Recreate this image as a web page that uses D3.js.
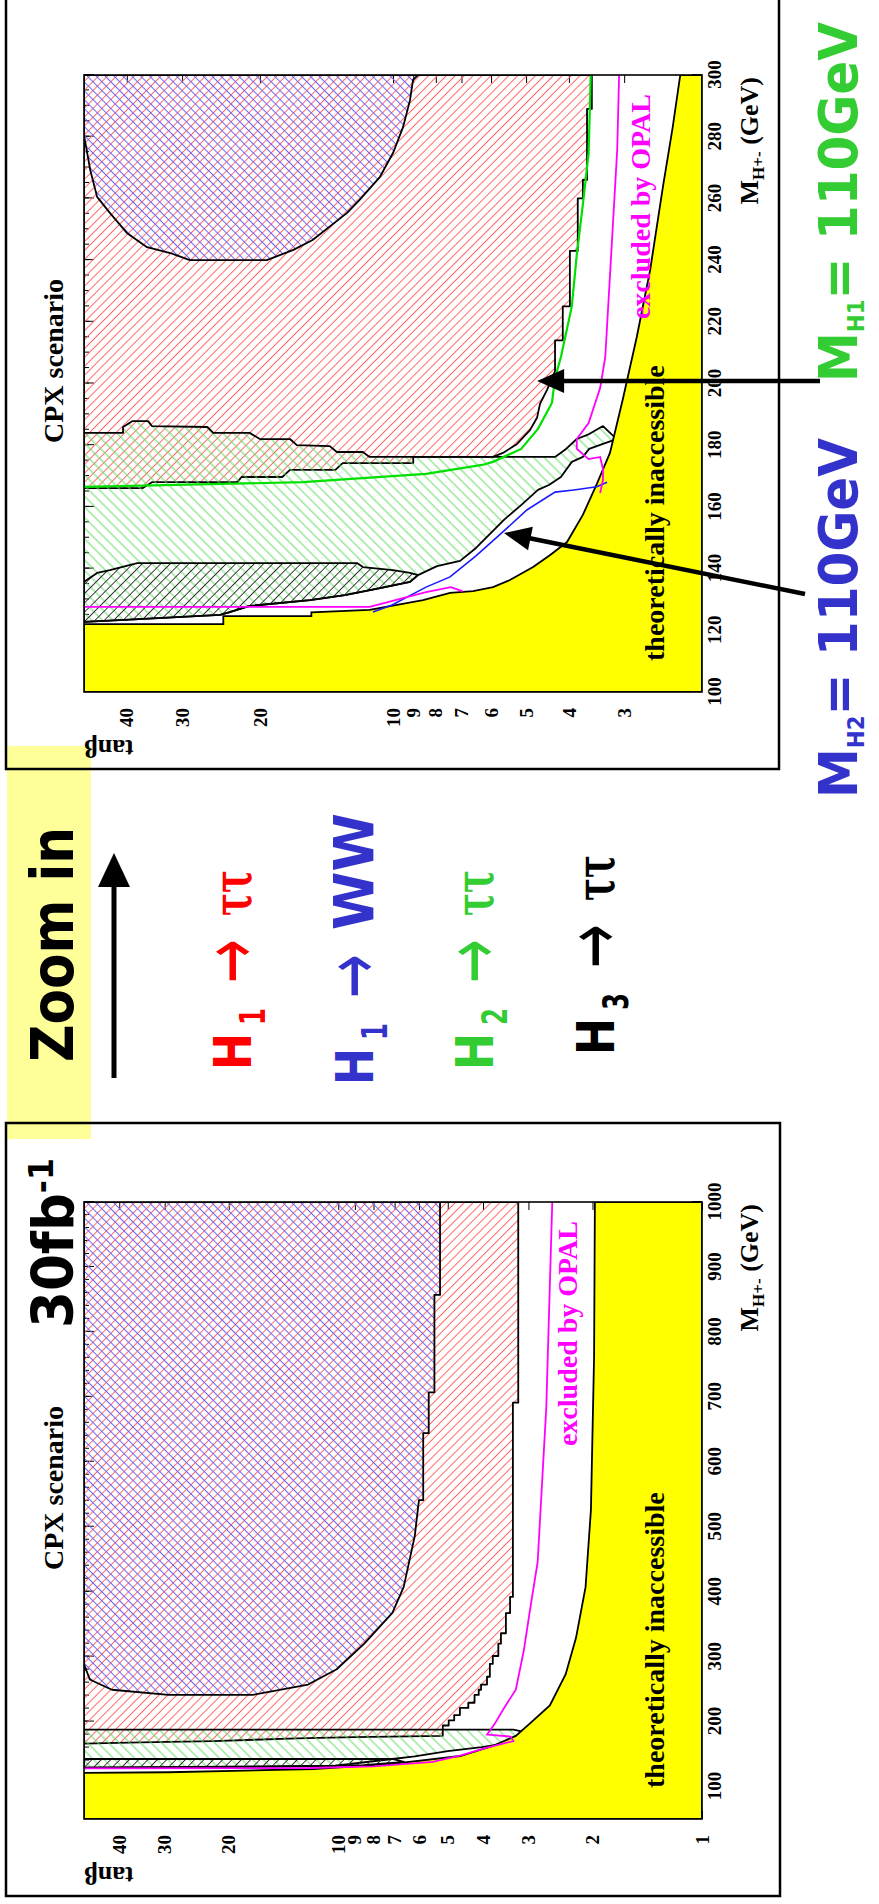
<!DOCTYPE html>
<html>
<head>
<meta charset="utf-8">
<script src="https://d3js.org/d3.v7.min.js"></script>
<style>
  body { margin: 0; background: #fff; }
</style>
</head>
<body>
<svg width="879" height="1904"></svg>
<script>
// values, every boundary is a list of [M_H+ (GeV), tan beta]

// zoomed plot: M_H+ 100-300 GeV, tan beta 2-50
var zoomMassTicks = [100, 120, 140, 160, 180, 200, 220, 240, 260, 280, 300];
var zoomTanbTicks = [3, 4, 5, 6, 7, 8, 9, 10, 20, 30, 40];
var zoomInaccessible = [[122,50],[122,24.2],[124.6,24.2],[124.6,15.3],[125.8,15.3],[126.6,11.3],[129.8,8.55],
  [132.1,7.43],[132.7,6.59],[134,5.94],[136.3,5.44],[140.5,4.82],[144.4,4.41],[148.6,4.04],[157.4,3.72],
  [167.4,3.46],[177.5,3.23],[195,3.02],[215,2.81],[236.8,2.62],[264,2.45],[283,2.33],[300,2.24]];
var zoomH1tautau = [[300,50],[300,3.55],[289,3.55],[289,3.64],[266,3.64],[266,3.72],[260,3.72],[260,3.82],
  [243,3.82],[243,3.98],[225,3.98],[225,4.13],[214,4.13],[214,4.30],[204,4.30],[198,4.48],[193.4,4.65],
  [189,4.72],[184.9,4.9],[180.4,5.24],[177.5,5.64],[176.2,5.94],[176.2,9.0],[174.2,9.0],[174.2,13.0],
  [172,13.5],[172,17.1],[169.7,17.8],[169.7,22.0],[168,22.5],[168,35.1],[166.1,36.8],[166.1,50]];
var zoomH1WW = [[300,50],[280.5,50],[269.2,48.4],[260.5,46.7],[255.3,43.7],[248.8,40.0],[244.2,36.0],
  [242.3,31.9],[240,28.8],[240,19.3],[243.3,16.8],[246.5,15.2],[255.3,12.7],[259.5,11.9],[267,10.7],
  [274.7,10.0],[283.1,9.49],[291.9,9.15],[298.4,9.01],[300,8.78]];
var zoomH2tautau = [[184,50],[184,40.8],[185.9,40.8],[187.8,38.9],[187.8,35.8],[186.2,35.1],[185.9,26.3],
  [184,25.5],[184,21.1],[182,20.0],[182,17.1],[180,16.5],[179.7,13.9],[177.8,13.4],[177.8,11.7],[176.2,11.3],
  [176.2,4.30],[178.8,4.06],[182,3.84],[183.6,3.60],[186.2,3.35],[182,3.12],[180.4,3.35],[178.8,3.6],
  [176.2,3.72],[174.6,3.94],[169.7,4.17],[167.1,4.44],[165.5,4.70],[160.6,5.13],[155.8,5.61],[152.2,5.94],
  [146.7,6.49],[142.5,7.05],[140.8,7.95],[137.9,8.78],[135.7,9.15],[133.7,10.7],[131.4,12.85],[129.8,15.4],
  [127.9,21.1],[125.9,23.4],[125,24.6],[123.3,41.5],[122.7,50]];
var zoomH3tautau = [[135.7,50],[138.6,46.7],[139.5,43.7],[141.8,37.9],[141.8,12.06],[140.5,11.7],[139.5,10.0],
  [138.6,9.15],[137.9,8.78],[135.7,9.15],[133.7,10.7],[131.4,12.85],[129.8,15.4],[127.9,21.1],[125.9,23.4],
  [125,24.6],[123.3,41.5],[122.7,50]];
var zoomGreenLine = [[166.5,50],[168,16.0],[170.7,8.42],[173.6,6.29],[174.6,5.94],[178.8,5.13],[185.3,4.70],
  [193.7,4.37],[201.8,4.30],[208.6,4.17],[225,3.94],[241.7,3.84],[258,3.72],[274.7,3.61],[300,3.57]];
var zoomBlueLine = [[125.9,11.1],[128.2,10.05],[134,8.42],[137.3,7.43],[144.1,6.49],[152.2,5.61],[159,4.98],
  [164.8,4.30],[165.5,3.9],[166.5,3.46],[168,3.28]];
var zoomOpal = [[300,3.08],[276,3.11],[241.7,3.21],[208.6,3.31],[198.5,3.40],[187.2,3.61],[182,3.84],
  [178.8,3.84],[175.5,3.61],[176.2,3.40],[172.3,3.35],[168.7,3.35],[164.5,3.40]];
var zoomOpalLow = [[127.6,50],[127.6,11.3],[132.4,8.42],[134,7.4],[132.6,6.95]];

// full plot: M_H+ 50-1000 GeV, tan beta 1-50
var fullMassTicks = [100, 200, 300, 400, 500, 600, 700, 800, 900, 1000];
var fullTanbTicks = [1, 2, 3, 4, 5, 6, 7, 8, 9, 10, 20, 30, 40];
var fullInaccessible = [[121,50],[122,29.3],[127,11.7],[135,7.1],[147,4.62],[162,3.78],[178,3.25],[198,2.96],
  [225,2.62],[273,2.37],[329,2.22],[407,2.09],[526,2.02],[763,1.98],[1000,1.97]];
var fullH1tautau = [[1000,50],[1000,3.2],[691,3.2],[691,3.31],[392,3.31],[392,3.37],[367,3.37],[367,3.46],
  [336,3.46],[336,3.57],[320,3.57],[320,3.63],[301,3.63],[301,3.76],[289,3.76],[289,3.83],[269,3.83],[269,3.9],
  [257,3.9],[257,4.05],[249,4.05],[249,4.11],[241,4.11],[241,4.22],[229,4.22],[229,4.39],[221,4.39],[221,4.63],
  [210,4.63],[210,4.8],[202,4.8],[202,4.97],[194,4.97],[194,5.16],[178,5.16],[176,9],[174,13],[172,17],
  [170,22],[168,35],[166,50]];
var fullH1WW = [[1000,50],[288.7,50],[264.8,48.2],[249,41.9],[241,29.3],[241,17.2],[257,12.1],[280.6,10.1],
  [320,8.48],[367.5,7.10],[407,6.61],[486,6.16],[541,6.0],[541,5.84],[644,5.84],[644,5.64],[707,5.64],
  [707,5.44],[857,5.44],[857,5.25],[1000,5.25]];
var fullH2tautau = [[187.5,50],[187.5,3.3],[184,3.09],[178.8,3.14],[166,3.5],[160.8,4.03],[154.6,5.0],
  [146.4,6.16],[142.4,7.1],[132,10.2],[130.5,20.7],[129,50]];
var fullH3tautau = [[142.4,50],[142.4,7.1],[138,6.6],[133,8.5],[131,12],[130,20],[129,50]];
var fullOpal = [[1000,2.58],[683,2.68],[446,2.83],[367,2.98],[309,3.09],[249,3.25],[221,3.5],[198,3.7],
  [186,3.83],[180,3.9],[177,3.36],[170,3.3],[160,3.9],[148,4.6],[138,5.5],[131,8],[128.5,12],[128,50]];

// slide legend
var decaySub = ["1", "1", "2", "3"];
var decayFinal = ["ττ", "WW", "ττ", "ττ"];
var decayColor = ["#ff0000", "#3333cc", "#33cc33", "#000000"];

var svg = d3.select("svg");
var W = 617, H = 618, X0 = 84;
var serif = "'Liberation Serif', 'Times New Roman', Times, serif",
    sans = "'DejaVu Sans', Verdana, sans-serif";

var defs = svg.append("defs");
function hatch(id, color, gap, angle) {
  var p = defs.append("pattern").attr("id", id).attr("patternUnits", "userSpaceOnUse")
    .attr("width", gap).attr("height", gap).attr("patternTransform", "rotate(" + angle + ")");
  p.append("line").attr("x1", gap / 2).attr("x2", gap / 2).attr("y1", 0).attr("y2", gap)
    .attr("stroke", color).attr("stroke-width", 1);
}
hatch("hRed", "#ff6464", 6.3, -45);
hatch("hBlue", "#6464ff", 6.3, 45);
hatch("hGreen", "#64dc64", 7.5, 45);
hatch("hBlack", "#333333", 6.6, -45);

svg.append("rect").attr("width", 879).attr("height", 1904).attr("fill", "#fff");
var boxes = [[6, -4, 773, 773], [6, 1123, 774, 773]];
boxes.forEach(function(b) {
  svg.append("rect").attr("x", b[0]).attr("y", b[1]).attr("width", b[2]).attr("height", b[3]).attr("fill", "#fff");
});
svg.append("rect").attr("x", 7).attr("y", 746).attr("width", 84).attr("height", 393).attr("fill", "#ffff99");

function plot(cfg) {
  var x = d3.scaleLinear().domain(cfg.mass).range([0, W]),
      y = d3.scaleLog().domain(cfg.tanb).range([H, 0]);
  var g = svg.append("g").attr("transform", "translate(" + X0 + "," + (cfg.top + W) + ") rotate(-90)");
  var line = d3.line().x(function(d) { return x(d[0]); }).y(function(d) { return y(d[1]); });
  var area = function(d) { return line(d) + "Z"; };

  g.append("clipPath").attr("id", cfg.id).append("rect").attr("width", W).attr("height", H);
  g.append("rect").attr("width", W).attr("height", H).attr("fill", "#fff");

  function styleAxis(a) {
    a.select(".domain").remove();
    a.attr("font-family", serif).attr("font-size", 19).attr("font-weight", "bold");
    a.selectAll("line").attr("stroke", "#000");
  }
  var fmt = d3.format("d");
  g.append("g").attr("transform", "translate(0," + H + ")")
    .call(d3.axisBottom(x).tickValues(cfg.massTicks).tickSize(-10).tickPadding(6).tickFormat(fmt)).call(styleAxis);
  g.append("g").attr("transform", "translate(0," + H + ")")
    .call(d3.axisBottom(x).tickValues(cfg.massMinor).tickSize(-5).tickFormat("")).call(styleAxis);
  g.append("g").call(d3.axisTop(x).tickValues(cfg.massTicks).tickSize(-10).tickFormat("")).call(styleAxis);
  g.append("g").call(d3.axisTop(x).tickValues(cfg.massMinor).tickSize(-5).tickFormat("")).call(styleAxis);
  g.append("g").call(d3.axisLeft(y).tickValues(cfg.tanbTicks).tickSize(-8).tickPadding(16).tickFormat(fmt)).call(styleAxis);
  g.append("g").attr("transform", "translate(" + W + ",0)")
    .call(d3.axisRight(y).tickValues(cfg.tanbTicks).tickSize(-8).tickFormat("")).call(styleAxis);

  var body = g.append("g").attr("clip-path", "url(#" + cfg.id + ")");
  [[cfg.h1tautau, "hRed"], [cfg.h1ww, "hBlue"], [cfg.h2tautau, "hGreen"], [cfg.h3tautau, "hBlack"]].forEach(function(r) {
    body.append("path").attr("d", area(r[0])).attr("fill", "url(#" + r[1] + ")")
      .attr("stroke", "#000").attr("stroke-width", 1.8).attr("stroke-linejoin", "round");
  });
  var m = cfg.mass, t = cfg.tanb;
  var yellow = cfg.inaccessible.concat([[m[1], t[0]], [m[0], t[0]], [m[0], t[1]]]);
  body.append("path").attr("d", area(yellow)).attr("fill", "#ffff00").attr("stroke", "#000").attr("stroke-width", 1.8);
  cfg.lines.forEach(function(l) {
    body.append("path").attr("d", line(l[0])).attr("fill", "none").attr("stroke", l[1]).attr("stroke-width", l[2]);
  });
  g.append("rect").attr("width", W).attr("height", H).attr("fill", "none").attr("stroke", "#000").attr("stroke-width", 1.6);

  var txt = g.append("g").attr("font-family", serif).attr("font-weight", "bold");
  txt.append("text").attr("x", 331).attr("y", -21).attr("text-anchor", "middle").attr("font-size", 28).text("CPX scenario");
  txt.append("text").attr("x", 598).attr("y", cfg.opalY).attr("text-anchor", "end").attr("font-size", 28)
    .attr("fill", "#ff00ff").text("excluded by OPAL");
  txt.append("text").attr("x", 31).attr("y", 580).attr("font-size", 28).text("theoretically inaccessible");
  var mt = txt.append("text").attr("x", 615).attr("y", 674).attr("text-anchor", "end").attr("font-size", 26);
  mt.append("tspan").text("M");
  mt.append("tspan").attr("font-size", 17).attr("dy", 6).text("H+-");
  mt.append("tspan").attr("dy", -6).text(" (GeV)");
  txt.append("text").attr("transform", "translate(-48,0) rotate(-90)").attr("text-anchor", "end")
    .attr("font-size", 26).text("tanβ");

  return function(d) { return [X0 + y(d[1]), cfg.top + W - x(d[0])]; };
}

var zoomPage = plot({
  id: "clipZoom", top: 75, mass: [100, 300], tanb: [2, 50],
  massTicks: zoomMassTicks, massMinor: d3.range(100, 301, 5), tanbTicks: zoomTanbTicks,
  h1tautau: zoomH1tautau, h1ww: zoomH1WW, h2tautau: zoomH2tautau, h3tautau: zoomH3tautau,
  inaccessible: zoomInaccessible, opalY: 566,
  lines: [[zoomGreenLine, "#00e000", 2.2], [zoomBlueLine, "#1a1aff", 1.6],
          [zoomOpal, "#ff00ff", 1.8], [zoomOpalLow, "#ff00ff", 1.8]]
});
plot({
  id: "clipFull", top: 1202, mass: [50, 1000], tanb: [1, 50],
  massTicks: fullMassTicks, massMinor: d3.range(60, 1001, 20), tanbTicks: fullTanbTicks,
  h1tautau: fullH1tautau, h1ww: fullH1WW, h2tautau: fullH2tautau, h3tautau: fullH3tautau,
  inaccessible: fullInaccessible, opalY: 493,
  lines: [[fullOpal, "#ff00ff", 1.8]]
});

boxes.forEach(function(b) {
  svg.append("rect").attr("x", b[0]).attr("y", b[1]).attr("width", b[2]).attr("height", b[3])
    .attr("fill", "none").attr("stroke", "#000").attr("stroke-width", 2.5);
});

// rotated slide text: (x, y) is the start of the baseline, text reads upwards
function upText(x, y, size, color, family, len) {
  var t = svg.append("text").attr("transform", "translate(" + x + "," + y + ") rotate(-90)")
    .attr("font-family", family || sans).attr("font-weight", "bold").attr("font-size", size).attr("fill", color || "#000");
  if (len) t.attr("textLength", len).attr("lengthAdjust", "spacingAndGlyphs");
  return t;
}

upText(73, 1062, 59, "#000", sans, 235).text("Zoom in");
svg.append("line").attr("x1", 114).attr("x2", 114).attr("y1", 1078).attr("y2", 880).attr("stroke", "#000").attr("stroke-width", 5);
svg.append("path").attr("d", "M114,853L98,887L130,887Z").attr("fill", "#000");

var fb = upText(73, 1328, 57, "#000", sans, 170);
fb.append("tspan").text("30fb");
fb.append("tspan").attr("font-size", 34).attr("dy", -20).text("-1");

var rowBase = [251, 373, 493, 614], rowStart = [1070, 1085, 1070, 1055];
decayFinal.forEach(function(f, i) {
  var c = decayColor[i], b = rowBase[i], s = rowStart[i];
  upText(b, s, 52, c, sans, 37).text("H");
  upText(b + 14, s - 45, 36, c, sans, 17).text(decaySub[i]);
  upText(b + 6, s - 87, 78, c, sans, 44).attr("font-weight", "normal").text("→");
  if (f === "WW") upText(b, s - 155, 55, c, sans, 117).text(f);
  else upText(b, s - 154, 54, c, "'DejaVu Serif', serif", 46).text(f);
});

function massText(y, sub, color) {
  var t = upText(857, y, 54, color, sans, 360);
  t.append("tspan").text("M");
  t.append("tspan").attr("font-size", 23).attr("dy", 7).text(sub);
  t.append("tspan").attr("dy", -7).text("= 110GeV");
}
massText(382, "H1", "#33cc33");
massText(798, "H2", "#3333cc");

function pointer(from, to) {
  var dx = to[0] - from[0], dy = to[1] - from[1], L = Math.sqrt(dx * dx + dy * dy);
  var ux = dx / L, uy = dy / L, hl = 27, hw = 12;
  var bx = to[0] - ux * hl, by = to[1] - uy * hl;
  svg.append("line").attr("x1", from[0]).attr("y1", from[1]).attr("x2", bx + ux * 2).attr("y2", by + uy * 2)
    .attr("stroke", "#000").attr("stroke-width", 4.5);
  svg.append("path").attr("d", "M" + to[0] + "," + to[1] + "L" + (bx - uy * hw) + "," + (by + ux * hw) +
    "L" + (bx + uy * hw) + "," + (by - ux * hw) + "Z").attr("fill", "#000");
}
pointer([820, 381], zoomPage([200.8, 4.72]));
pointer([805, 594], zoomPage([151.5, 5.61]));
</script>
</body>
</html>
